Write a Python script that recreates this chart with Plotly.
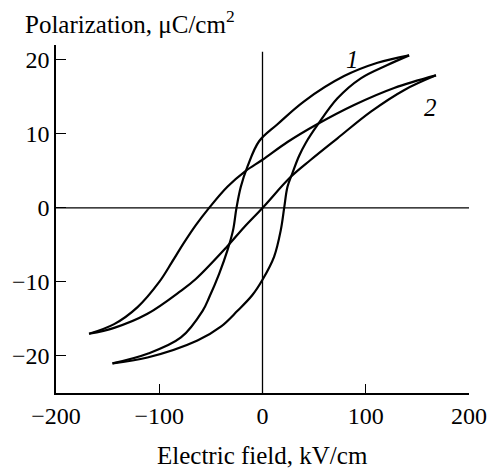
import plotly.graph_objects as go

# Curve 1: descending (upper) branch and ascending (lower) branch
c1_down_E = [142, 111.4, 79, 40.3, 14.5, -3.3, -14.5, -21, -25.2, -28.5, -33.9, -42, -51.7, -58, -79, -111.4, -145.3]
c1_down_P = [20.6, 19.6, 17.8, 14.4, 11.3, 9.0, 5.6, 2.85, 0, -3.0, -5.7, -8.9, -12.1, -13.9, -17.5, -19.7, -21.0]
c1_up_E = [-145.3, -111.4, -63, -40, -24.2, -10, 0, 11.2, 17.7, 21, 24.2, 29, 35.4, 42, 53.3, 72.6, 95.2, 121, 142]
c1_up_P = [-21.0, -20.2, -17.9, -16.0, -13.9, -11.8, -9.7, -6.6, -3.0, 0, 2.85, 4.7, 7.0, 8.8, 11.2, 14.8, 17.5, 19.3, 20.6]

# Curve 2
c2_down_E = [168, 127.5, 88.7, 51.6, 24.2, 0, -16.2, -34, -51.7, -64.4, -76, -88, -100, -121, -143.7, -168]
c2_down_P = [17.9, 16.2, 13.9, 11.2, 8.9, 6.5, 5.0, 2.85, 0, -2.3, -4.7, -7.4, -10.0, -13.4, -15.7, -17.0]
c2_up_E = [-168, -143.7, -111.4, -79, -64.6, -35.5, -17.8, 0, 27.4, 46.8, 72.6, 105, 137, 168]
c2_up_P = [-17.0, -16.2, -14.3, -11.2, -9.6, -5.4, -2.6, 0, 4.2, 6.5, 9.4, 13.0, 15.9, 17.9]

x_ticks = [-200, -100, 0, 100, 200]
y_ticks = [-20, -10, 0, 10, 20]
x_range = [-200, 200]
y_range = [-25, 22]

FONT = "Liberation Serif"
fig = go.Figure()
for ex, py in [(c1_down_E, c1_down_P), (c1_up_E, c1_up_P), (c2_down_E, c2_down_P), (c2_up_E, c2_up_P)]:
    fig.add_trace(go.Scatter(x=ex, y=py, mode="lines",
                             line=dict(color="black", width=2.2, shape="spline", smoothing=1.0),
                             showlegend=False, hoverinfo="skip"))

# cross lines through origin
fig.add_shape(type="line", xref="x", yref="y", x0=0, x1=0, y0=y_range[0], y1=21.1,
              line=dict(color="black", width=1.3))
fig.add_shape(type="line", xref="x", yref="y", x0=x_range[0], x1=x_range[1], y0=0, y1=0,
              line=dict(color="black", width=1.3))

fig.add_annotation(x=87, y=20.0, text="<i>1</i>", showarrow=False,
                   font=dict(family=FONT, size=25, color="black"))
fig.add_annotation(x=163, y=13.5, text="<i>2</i>", showarrow=False,
                   font=dict(family=FONT, size=25, color="black"))

fig.add_annotation(xref="paper", yref="paper", x=0, y=1, xanchor="left", yanchor="middle",
                   xshift=-33, yshift=23, showarrow=False,
                   text="Polarization, μC/cm<sup>2</sup>",
                   font=dict(family=FONT, size=25, color="black"))
fig.add_annotation(xref="x", yref="paper", x=0, y=0, xanchor="center", yanchor="middle",
                   yshift=-62, showarrow=False,
                   text="Electric field, kV/cm",
                   font=dict(family=FONT, size=25, color="black"))

fig.update_layout(
    width=490, height=470,
    margin=dict(l=56, r=21, t=45, b=77),
    paper_bgcolor="white", plot_bgcolor="white",
    font=dict(family=FONT, size=24, color="black"),
    xaxis=dict(range=x_range, tickvals=x_ticks, ticks="inside", ticklen=9, tickwidth=1.3,
               tickcolor="black", showline=True, linecolor="black", linewidth=1.5,
               showgrid=False, zeroline=False, mirror=False, automargin=False,
               tickfont=dict(family=FONT, size=24, color="black")),
    yaxis=dict(range=y_range, tickvals=y_ticks, ticks="inside", ticklen=10, tickwidth=1.3,
               tickcolor="black", showline=True, linecolor="black", linewidth=1.5,
               showgrid=False, zeroline=False, mirror=False, automargin=False,
               tickfont=dict(family=FONT, size=24, color="black")),
)
fig.write_html("out.html")
